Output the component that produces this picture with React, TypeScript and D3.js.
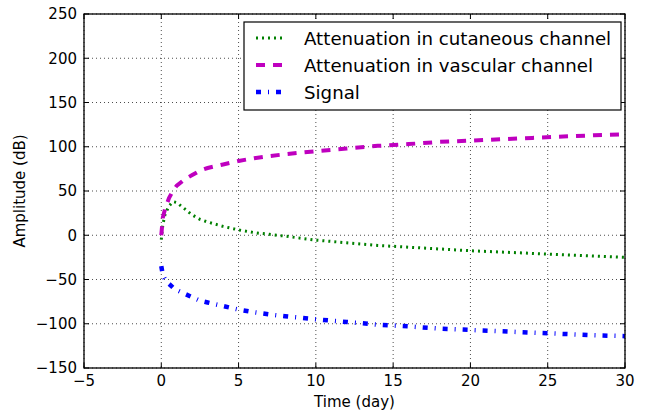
import { scaleLinear, line } from "d3";

const width = 652;
const height = 414;
const MARGIN = { top: 14, right: 27, bottom: 46, left: 84 };
const boundsWidth = width - MARGIN.left - MARGIN.right;
const boundsHeight = height - MARGIN.top - MARGIN.bottom;

// time in days
const days = [0, 0.1, 0.25, 0.5, 0.75, 1, 1.5, 2, 2.5, 3, 4, 5, 6, 7, 8, 10, 12, 14, 16, 18, 20, 22, 24, 26, 28, 30];
const cutaneous = [-5, 12, 24, 33, 38, 37, 30, 23, 18, 15, 10, 6, 3, 1, -1, -5.5, -8.5, -11.5, -13.5, -15.5, -17.5, -19, -20.5, -22, -23.5, -25];
const vascular = [0, 20, 30, 42, 50, 56, 63, 68, 73, 76, 80, 84, 87, 89.5, 91.5, 95, 98, 101, 103, 105.5, 107, 108.5, 110, 111.5, 113, 114];
const signal = [-35, -45, -50, -55, -59, -62, -66, -70, -74, -76, -80, -84, -87, -89.5, -91.5, -95, -98, -101, -103, -105.5, -107, -108.5, -110, -111.5, -113, -114];

const xTicks = [-5, 0, 5, 10, 15, 20, 25, 30];
const yTicks = [-150, -100, -50, 0, 50, 100, 150, 200, 250];

const seriesNames = ["Attenuation in cutaneous channel", "Attenuation in vascular channel", "Signal"];

const FONT = "DejaVu Sans, sans-serif";

export default function App() {
  const xScale = scaleLinear().domain([-5, 30]).range([0, boundsWidth]);
  const yScale = scaleLinear().domain([-150, 250]).range([boundsHeight, 0]);

  const styles = [
    { color: "#008000", width: 3, dash: "2,4" },
    { color: "#bf00bf", width: 4, dash: "9,8" },
    { color: "#0000ff", width: 4.5, dash: "5,7,1,7" },
  ];
  const allSeries = [cutaneous, vascular, signal];

  const mkLine = (vals: number[]) =>
    line<number>()
      .x((_, i) => xScale(days[i]))
      .y((d) => yScale(d))(vals) || "";

  const neg = (v: number) => (v < 0 ? "\u2212" + Math.abs(v) : String(v));

  return (
    <svg
      width={width}
      height={height}
      style={{ position: "absolute", left: 0, top: 0, background: "#fff" }}
      fontFamily={FONT}
    >
      <rect width={width} height={height} fill="#fff" />
      <g transform={`translate(${MARGIN.left},${MARGIN.top})`}>
        {/* grid */}
        {xTicks.map((t) => (
          <line key={"gx" + t} x1={xScale(t)} x2={xScale(t)} y1={0} y2={boundsHeight}
            stroke="#000" strokeWidth={0.7} strokeDasharray="1,3" />
        ))}
        {yTicks.map((t) => (
          <line key={"gy" + t} x1={0} x2={boundsWidth} y1={yScale(t)} y2={yScale(t)}
            stroke="#000" strokeWidth={0.7} strokeDasharray="1,3" />
        ))}

        {allSeries.map((s, i) => (
          <path key={i} d={mkLine(s)} fill="none" stroke={styles[i].color}
            strokeWidth={styles[i].width} strokeDasharray={styles[i].dash} />
        ))}

        {/* ticks, inward on all sides */}
        {xTicks.map((t) => (
          <g key={"tx" + t}>
            <line x1={xScale(t)} x2={xScale(t)} y1={boundsHeight} y2={boundsHeight - 5} stroke="#000" />
            <line x1={xScale(t)} x2={xScale(t)} y1={0} y2={5} stroke="#000" />
            <text x={xScale(t)} y={boundsHeight + 18} textAnchor="middle" fontSize={15}>{neg(t)}</text>
          </g>
        ))}
        {yTicks.map((t) => (
          <g key={"ty" + t}>
            <line x1={0} x2={5} y1={yScale(t)} y2={yScale(t)} stroke="#000" />
            <line x1={boundsWidth} x2={boundsWidth - 5} y1={yScale(t)} y2={yScale(t)} stroke="#000" />
            <text x={-7} y={yScale(t)} dy="0.36em" textAnchor="end" fontSize={15}>{neg(t)}</text>
          </g>
        ))}

        <rect x={0} y={0} width={boundsWidth} height={boundsHeight} fill="none" stroke="#000" strokeWidth={1.3} />

        {/* legend */}
        <g transform={`translate(${160},${8})`}>
          <rect x={0} y={0} width={377} height={88} fill="#fff" stroke="#000" strokeWidth={1.2} />
          {seriesNames.map((name, i) => (
            <g key={name} transform={`translate(0,${16 + i * 27})`}>
              <line x1={12} x2={39} y1={0} y2={0} stroke={styles[i].color}
                strokeWidth={styles[i].width} strokeDasharray={styles[i].dash} />
              <text x={60} y={0} dy="0.36em" fontSize={18.2}>{name}</text>
            </g>
          ))}
        </g>
      </g>

      <text x={MARGIN.left + boundsWidth / 2} y={height - 7} textAnchor="middle" fontSize={15}>Time (day)</text>
      <text transform={`translate(${25},${MARGIN.top + boundsHeight / 2}) rotate(-90)`} textAnchor="middle" fontSize={15}>
        Amplitude (dB)
      </text>
    </svg>
  );
}
